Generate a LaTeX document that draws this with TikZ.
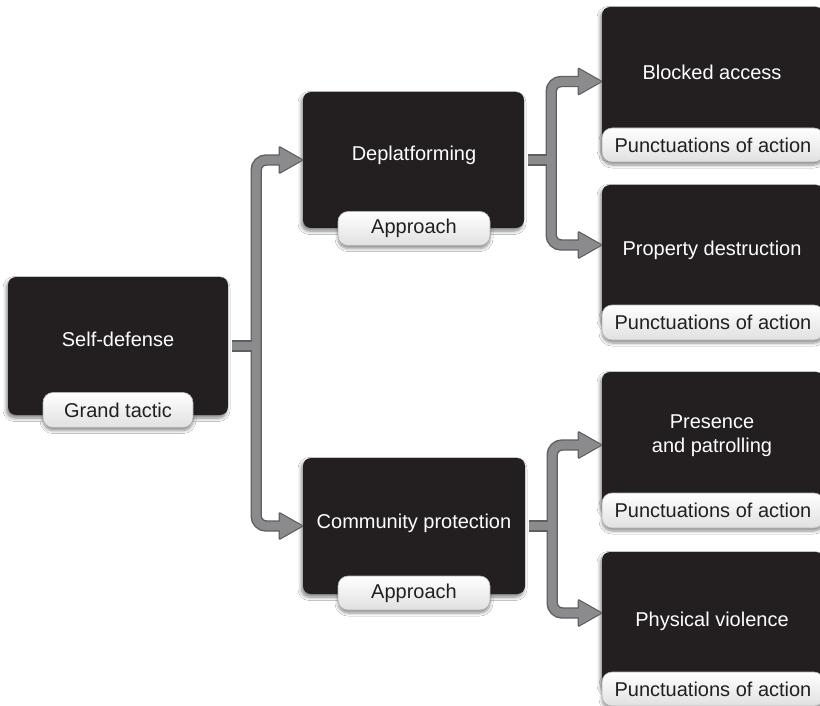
\documentclass[tikz,border=0pt]{standalone}
\usepackage{fontspec}
\setmainfont{Liberation Sans}
\usetikzlibrary{calc,shadows,shadows.blur}
\definecolor{boxdark}{HTML}{231F20}
\definecolor{arrfill}{HTML}{8B8B8E}
\definecolor{arrline}{HTML}{5F5F62}
\definecolor{pilltxt}{HTML}{231F20}
\tikzset{
  darkbox/.style 2 args={rectangle, rounded corners=8pt, fill=boxdark, draw=none,
    minimum width=#1, minimum height=#2, inner sep=0pt,
    blur shadow={shadow xshift=-1.5pt, shadow yshift=-3pt, shadow blur radius=3.5pt, shadow blur steps=6, shadow opacity=50}},
  pill/.style 2 args={rectangle, rounded corners=10pt, top color=white, bottom color=black!12,
    draw=black!30, line width=0.6pt, minimum width=#1, minimum height=#2, inner sep=0pt,
    text=pilltxt, font=\fontsize{20}{24}\selectfont,
    blur shadow={shadow xshift=0pt, shadow yshift=-3pt, shadow blur radius=3pt, shadow blur steps=6, shadow opacity=45}},
  maintext/.style={text=white, font=\fontsize{20}{24}\selectfont, align=center, inner sep=0pt},
  linkout/.style={draw=arrline, line width=11.4pt, rounded corners=10pt},
  linkin/.style={draw=arrfill, line width=8.6pt, rounded corners=10pt},
  headout/.style={fill=arrline, draw=arrline, line width=2.4pt, line join=round},
  headin/.style={fill=arrfill, draw=none}
}
\newcommand\mylinks[1]{%
  \draw[#1] ($(sd.east)+(4,0)$) -- ($(sd.east)+(28,0)$);
  \draw[#1] ($(tdp)+(-20,0)$) -| ($(sd.east)+(28,0)$) |- ($(tcp)+(-20,0)$);
  \draw[#1] ($(dp.east)+(4,0)$) -- ($(dp.east)+(27,0)$);
  \draw[#1] ($(tba)+(-20,0)$) -| ($(dp.east)+(27,0)$) |- ($(tpd)+(-20,0)$);
  \draw[#1] ($(cp.east)+(4,0)$) -- ($(cp.east)+(27,0)$);
  \draw[#1] ($(tpp)+(-20,0)$) -| ($(cp.east)+(27,0)$) |- ($(tpv)+(-20,0)$);
}
\newcommand\myheads[1]{%
  \foreach \t in {tdp,tcp,tba,tpd,tpp,tpv}{
    \path[#1] (\t) -- ++(-22,12.5) -- ++(0,-25) -- cycle;
  }
}
\begin{document}
\begin{tikzpicture}[x=1pt,y=-1pt]
  \clip (0,0) rectangle (820,706);
  \fill[white] (0,0) rectangle (820,706);

  % dark boxes
  \node[darkbox={220pt}{138pt}] (sd) at (118,346) {};
  \node[darkbox={221pt}{136pt}] (dp) at (413.5,160) {};
  \node[darkbox={222pt}{136pt}] (cp) at (414,526) {};
  \node[darkbox={222pt}{148pt}] (ba) at (713,81) {};
  \node[darkbox={222pt}{140pt}] (pd) at (713,255) {};
  \node[darkbox={222pt}{140pt}] (pp) at (713,442) {};
  \node[darkbox={222pt}{138pt}] (pv) at (713,621) {};

  % texts in boxes
  \node[maintext] (sdt) at (118,339) {Self-defense};
  \node[maintext] (dpt) at (414,155) {Deplatforming};
  \node[maintext] (cpt) at (414,523) {Community protection};
  \node[maintext] (bat) at (712,72) {Blocked access};
  \node[maintext] (pdt) at (712,250) {Property destruction};
  \node[maintext] (ppt) at (712,436) {Presence\\and patrolling};
  \node[maintext] (pvt) at (712,621) {Physical violence};

  % pills
  \node[pill={150pt}{35pt}] (sdl) at (118,410) {Grand tactic};
  \node[pill={152pt}{34pt}] (dpl) at (414,228.5) {Approach};
  \node[pill={152pt}{34pt}] (cpl) at (414,593) {Approach};
  \node[pill={222pt}{34pt}] (bal) at (713,145) {Punctuations of action};
  \node[pill={222pt}{35pt}] (pdl) at (713,322.5) {Punctuations of action};
  \node[pill={222pt}{35pt}] (ppl) at (713,510.5) {Punctuations of action};
  \node[pill={222pt}{34pt}] (pvl) at (713,689) {Punctuations of action};

  % arrow tip points
  \coordinate (tdp) at ($(dp.west)+(-1,0)$);
  \coordinate (tcp) at ($(cp.west)+(-1,0)$);
  \coordinate (tba) at ($([yshift=-0.5pt]ba.west)+(-1,0)$);
  \coordinate (tpd) at ($([yshift=10pt]pd.west)+(-1,0)$);
  \coordinate (tpp) at ($([yshift=-3pt]pp.west)+(-1,0)$);
  \coordinate (tpv) at ($([yshift=8pt]pv.west)+(-1,0)$);

  % connectors
  \mylinks{linkout}
  \myheads{headout}
  \mylinks{linkin}
  \myheads{headin}
\end{tikzpicture}
\end{document}
